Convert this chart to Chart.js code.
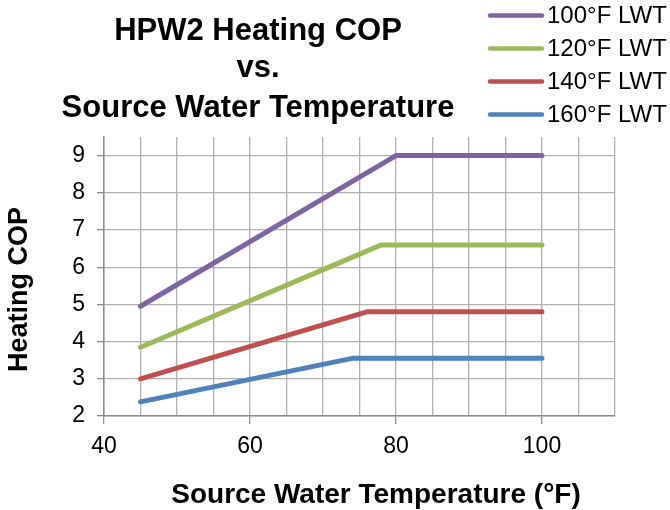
<!DOCTYPE html>
<html><head><meta charset="utf-8">
<script src="https://cdn.jsdelivr.net/npm/chart.js@4.4.0/dist/chart.umd.min.js"></script>
<style>html,body{margin:0;padding:0;background:#fff;}#wrap{width:670px;height:510px;}</style>
</head><body><div id="wrap"><canvas id="c" width="670" height="510"></canvas></div>
<script>
// ---- data ----
const titleLines = ['HPW2 Heating COP', 'vs.', 'Source Water Temperature'];
const xAxisTitle = 'Source Water Temperature (°F)';
const yAxisTitle = 'Heating COP';
const seriesLabels = ['100°F LWT', '120°F LWT', '140°F LWT', '160°F LWT'];
const seriesColors = ['#8064A2', '#9BBB59', '#C0504D', '#4F81BD'];
const temps100 = [45, 80, 100];
const cop100   = [4.95, 9.0, 9.0];
const temps120 = [45, 78, 100];
const cop120   = [3.85, 6.6, 6.6];
const temps140 = [45, 76, 100];
const cop140   = [3.0, 4.8, 4.8];
const temps160 = [45, 74, 100];
const cop160   = [2.38, 3.55, 3.55];
const xMin = 40, xMax = 110, xStep = 5, xLabelStep = 20;
const yMin = 2, yMax = 9.5, yStep = 1;

const FAMILY = "'Liberation Sans', Arial, Helvetica, sans-serif";
Chart.defaults.font.family = FAMILY;

function pts(xs, ys) { return xs.map((x, i) => ({x: x, y: ys[i]})); }
const allX = [temps100, temps120, temps140, temps160];
const allY = [cop100, cop120, cop140, cop160];

const datasets = seriesLabels.map((lab, i) => ({
  label: lab,
  data: pts(allX[i], allY[i]),
  borderColor: seriesColors[i],
  backgroundColor: seriesColors[i],
  borderWidth: 5,
  borderCapStyle: 'round',
  borderJoinStyle: 'round',
  pointRadius: 0,
  fill: false,
  tension: 0
}));

const textPlugin = {
  id: 'texts',
  afterDraw(chart) {
    const ctx = chart.ctx;
    ctx.save();
    ctx.fillStyle = '#000';
    // title
    ctx.font = "bold 31px " + FAMILY;
    ctx.textAlign = 'center';
    ctx.textBaseline = 'alphabetic';
    const tb = [40, 77, 117];
    titleLines.forEach((t, i) => ctx.fillText(t, 258, tb[i]));
    // legend
    ctx.font = "24px " + FAMILY;
    ctx.textAlign = 'left';
    ctx.textBaseline = 'middle';
    chart.data.datasets.forEach((ds, i) => {
      const y = 15.5 + i * 33;
      ctx.strokeStyle = ds.borderColor;
      ctx.lineWidth = 4.5;
      ctx.lineCap = 'round';
      ctx.beginPath(); ctx.moveTo(490, y); ctx.lineTo(542, y); ctx.stroke();
      ctx.fillStyle = '#000';
      ctx.fillText(ds.label, 547, y + 1);
    });
    // x axis title
    ctx.font = "bold 28px " + FAMILY;
    ctx.textAlign = 'center';
    ctx.textBaseline = 'alphabetic';
    ctx.fillText(xAxisTitle, 376, 503);
    // y axis title
    ctx.font = "bold 27px " + FAMILY;
    ctx.translate(20, 289.5);
    ctx.rotate(-Math.PI / 2);
    ctx.textBaseline = 'middle';
    ctx.fillText(yAxisTitle, 0, 0);
    ctx.restore();
  }
};

new Chart(document.getElementById('c'), {
  type: 'line',
  data: { datasets: datasets },
  plugins: [textPlugin],
  options: {
    responsive: false,
    animation: false,
    devicePixelRatio: 1,
    layout: { padding: { top: 137, right: 55, left: 0, bottom: 0 } },
    plugins: { legend: { display: false }, title: { display: false }, tooltip: { enabled: false } },
    scales: {
      x: {
        type: 'linear', min: xMin, max: xMax,
        ticks: {
          stepSize: xStep, autoSkip: false, maxRotation: 0, padding: 9, color: '#000',
          font: { size: 23 },
          callback: v => (v % xLabelStep === 0 && v <= 100) ? String(v) : ''
        },
        grid: {
          color: '#b0b0b0', lineWidth: 1.3, tickLength: 8,
          tickColor: c => (c.tick && c.tick.value % xLabelStep === 0 && c.tick.value <= 100) ? '#8c8c8c' : 'rgba(0,0,0,0)'
        },
        border: { color: '#8c8c8c', width: 1.5 },
        afterFit: s => { s.height = 94; }
      },
      y: {
        type: 'linear', min: yMin, max: yMax,
        afterBuildTicks: s => { s.ticks = s.ticks.filter(t => Number.isInteger(t.value)); },
        ticks: { stepSize: yStep, includeBounds: false, padding: 12, color: '#000', font: { size: 23 } },
        grid: { color: '#b0b0b0', lineWidth: 1.3, tickLength: 7, tickColor: '#8c8c8c' },
        border: { color: '#8c8c8c', width: 1.5 },
        afterFit: s => { s.width = 104; }
      }
    }
  }
});
</script>
</body></html>
